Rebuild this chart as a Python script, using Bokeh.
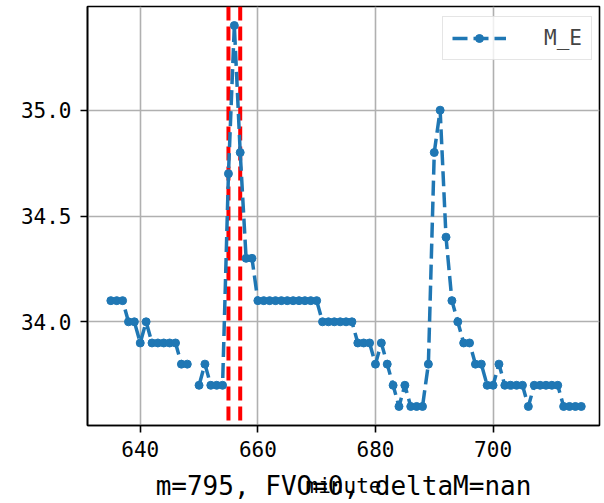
from bokeh.plotting import figure
from bokeh.models import (Range1d, FixedTicker, Span, Legend, LegendItem,
                          ColumnDataSource, LinearAxis)
from bokeh.embed import file_html
from bokeh.resources import INLINE

nan = float("nan")

# ---- data ----
minutes = list(range(635, 716))
m_e = [
    34.1, 34.1, 34.1, 34.0, 34.0, 33.9, 34.0, 33.9, 33.9, 33.9,   # 635-644
    33.9, 33.9, 33.8, 33.8, nan, 33.7, 33.8, 33.7, 33.7, 33.7,    # 645-654
    34.7, 35.4, 34.8, 34.3, 34.3,                                  # 655-659
    34.1, 34.1, 34.1, 34.1, 34.1, 34.1, 34.1, 34.1, 34.1, 34.1, 34.1,  # 660-670
    34.0, 34.0, 34.0, 34.0, 34.0, 34.0,                            # 671-676
    33.9, 33.9, 33.9,                                              # 677-679
    33.8, 33.9, 33.8, 33.7, 33.6, 33.7, 33.6, 33.6, 33.6, 33.8,   # 680-689
    34.8, 35.0,                                                    # 690-691
    34.4, 34.1, 34.0, 33.9, 33.9, 33.8, 33.8, 33.7, 33.7, 33.8,   # 692-701
    33.7, 33.7, 33.7, 33.7,                                        # 702-705
    33.6,                                                          # 706
    33.7, 33.7, 33.7, 33.7, 33.7,                                  # 707-711
    33.6, 33.6, 33.6, 33.6,                                        # 712-715
]
series_label = "M_E"
marker_minutes = [655, 657]
x_ticks = [640, 660, 680, 700]
y_ticks = [34.0, 34.5, 35.0]
y_tick_labels = ["34.0", "34.5", "35.0"]
x_label = "minute"
title_text = "m=795, FVO=0, deltaM=nan"

FONT = "DejaVu Sans Mono"
BLUE = "#1f77b4"

src = ColumnDataSource(dict(x=minutes, y=m_e))

p = figure(width=604, height=503, output_backend="svg", toolbar_location=None,
           x_range=Range1d(631.03, 718.1), y_range=Range1d(33.51, 35.49),
           min_border_left=87, min_border_right=5, min_border_top=6,
           min_border_bottom=76)

p.background_fill_color = "white"
p.border_fill_color = "white"
p.outline_line_color = "black"
p.outline_line_width = 1.6

# grid
for g in (p.xgrid, p.ygrid):
    g.grid_line_color = "#b0b0b0"
    g.grid_line_width = 1.6
p.xgrid.ticker = FixedTicker(ticks=x_ticks)
p.ygrid.ticker = FixedTicker(ticks=y_ticks)

# axes
p.xaxis.ticker = FixedTicker(ticks=x_ticks)
p.yaxis.ticker = FixedTicker(ticks=y_ticks)
p.yaxis.major_label_overrides = {t: l for t, l in zip(y_ticks, y_tick_labels)}
for ax in (p.xaxis, p.yaxis):
    ax.axis_line_color = "black"
    ax.axis_line_width = 1.6
    ax.major_tick_line_color = "black"
    ax.major_tick_line_width = 1.6
    ax.major_tick_out = 7
    ax.major_tick_in = 0
    ax.minor_tick_line_color = None
    ax.major_label_text_font = FONT
    ax.major_label_text_font_size = "21px"
    ax.major_label_text_color = "black"
p.xaxis.major_label_standoff = 8
p.yaxis.major_label_standoff = 9

p.xaxis.axis_label = x_label
p.xaxis.axis_label_text_font = FONT
p.xaxis.axis_label_text_font_size = "21px"
p.xaxis.axis_label_text_font_style = "normal"
p.xaxis.axis_label_text_color = "black"
p.xaxis.axis_label_standoff = 14


def bare_axis(label, size, standoff):
    return LinearAxis(ticker=FixedTicker(ticks=[]), axis_label=label,
                      axis_line_color=None, major_tick_line_color=None,
                      minor_tick_line_color=None, major_tick_out=0,
                      major_label_standoff=0,
                      axis_label_text_font=FONT,
                      axis_label_text_font_size=size,
                      axis_label_text_font_style="normal",
                      axis_label_text_color="black",
                      axis_label_standoff=standoff)


# bottom title drawn as the label of a bare second axis, pulled up to overlap
p.add_layout(bare_axis(title_text, "26px", -30), "below")
# empty spacer axis with negative extent so the stack fits the page
p.add_layout(bare_axis(" ", "21px", -40), "below")

# vertical red dashed markers (under the data)
for v in marker_minutes:
    p.add_layout(Span(location=v, dimension="height", line_color="red",
                      line_width=4, line_dash="14 6", level="underlay"))

ln = p.line("x", "y", source=src, line_color=BLUE, line_width=3.5,
            line_dash="15 6")
sc = p.scatter("x", "y", source=src, size=8, fill_color=BLUE, line_color=BLUE)

legend = Legend(items=[LegendItem(label=series_label, renderers=[ln, sc])],
                location=(355, 365))
legend.label_text_font = FONT
legend.label_text_font_size = "21px"
legend.glyph_width = 54
legend.glyph_height = 20
legend.label_standoff = 38
legend.padding = 9
legend.margin = 0
legend.border_line_color = "#cccccc"
legend.border_line_width = 1.5
legend.background_fill_alpha = 0.8
p.add_layout(legend)

open("out.html", "w").write(file_html(p, INLINE))
